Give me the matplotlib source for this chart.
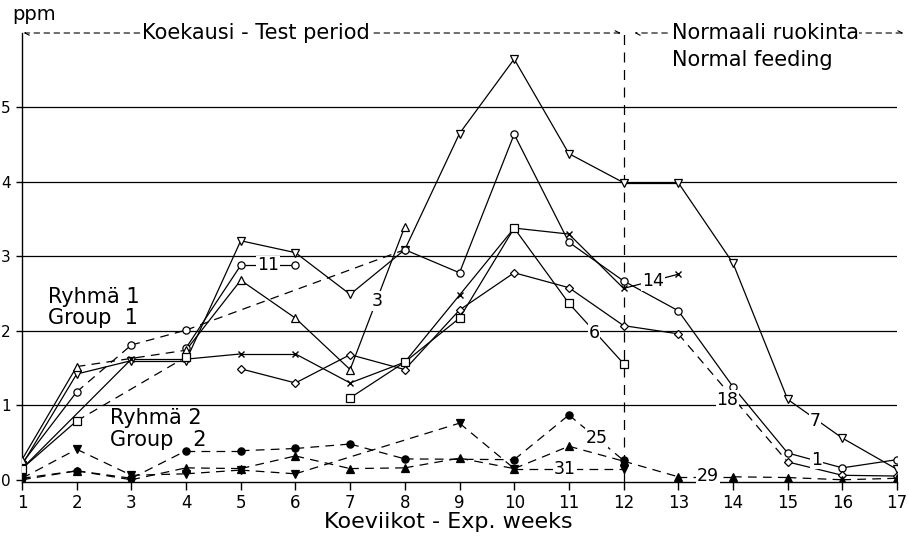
import numpy as np
import matplotlib
matplotlib.use("Agg")
import matplotlib.pyplot as plt

nan = np.nan
weeks = list(range(1, 18))

# ---- Group 1 (Ryhmä 1): open markers ----
s7 = [0.20, 1.42, 1.60, 1.60, 3.21, 3.05, 2.49, 3.09, 4.65, 5.65, 4.38, 3.99, 3.99, 2.91, 1.08, 0.56, 0.14]
s1 = [0.22, 1.18, 1.81, 2.01, nan, nan, nan, 3.09, 2.78, 4.64, 3.19, 2.67, 2.27, 1.25, 0.36, 0.16, 0.27]
s11 = [nan, nan, nan, 1.77, 2.88, 2.88, nan, nan, nan, nan, nan, nan, nan, nan, nan, nan, nan]
s3 = [0.27, 1.52, nan, 1.74, 2.68, 2.17, 1.48, 3.40, nan, nan, nan, nan, nan, nan, nan, nan, nan]
s14 = [0.15, nan, 1.62, 1.62, 1.69, 1.69, 1.30, 1.58, 2.48, 3.38, 3.30, 2.57, 2.76, nan, nan, nan, nan]
s6 = [nan, nan, nan, nan, nan, nan, 1.10, 1.58, 2.17, 3.38, 2.37, 1.56, nan, nan, nan, nan, nan]
s18 = [nan, nan, nan, nan, 1.49, 1.30, 1.68, 1.48, 2.28, 2.78, 2.58, 2.07, 1.96, nan, 0.24, 0.06, 0.05]
s_sq = [0.15, 0.79, nan, 1.65, nan, nan, nan, nan, nan, nan, nan, nan, nan, nan, nan, nan, nan]

# ---- Group 2 (Ryhmä 2): filled markers ----
s25 = [0.02, 0.12, 0.02, 0.39, 0.39, 0.42, 0.48, 0.28, nan, 0.27, 0.87, 0.26, nan, nan, nan, nan, nan]
s31 = [0.02, 0.41, 0.06, 0.08, 0.13, 0.08, nan, nan, 0.76, 0.15, nan, 0.15, nan, nan, nan, nan, nan]
s29 = [0.00, 0.12, 0.00, 0.16, 0.15, 0.32, 0.15, 0.16, 0.29, 0.15, 0.45, 0.25, 0.04, 0.04, 0.03, 0.00, 0.02]

yticks = [0, 1, 2, 3, 4, 5]

# series: values, marker, filled, dashed segment start weeks (None = all dashed)
series = [
    (s7, 'v', False, []),
    (s1, 'o', False, [2, 3, 4]),
    (s11, 'o', False, []),
    (s3, '^', False, [2]),
    (s14, 'x', False, []),
    (s6, 's', False, []),
    (s18, 'D', False, [13]),
    (s_sq, 's', False, [2]),
    (s25, 'o', True, None),
    (s31, 'v', True, None),
    (s29, '^', True, None),
]

labels = [("11", 5.5, 2.88), ("3", 7.5, 2.40), ("6", 11.46, 1.97), ("14", 12.54, 2.67),
          ("18", 13.9, 1.07), ("7", 15.5, 0.79), ("1", 15.53, 0.27), ("25", 11.51, 0.56),
          ("31", 10.93, 0.15), ("29", 13.54, 0.05)]

W, H = 909, 540
fig = plt.figure(figsize=(W / 100, H / 100), dpi=100)
ax = fig.add_axes([22 / W, (540 - 482) / H, 875 / W, (482 - 33) / H])
ax.set_xlim(1, 17)
ax.set_ylim(-0.03, 6.0)
for sp in ['top', 'right']:
    ax.spines[sp].set_visible(False)
ax.spines['left'].set_linewidth(1.0)
ax.spines['bottom'].set_linewidth(1.0)
ax.set_xticks(weeks)
ax.set_yticks(yticks)
ax.tick_params(axis='x', length=6, width=1, direction='out', labelsize=12, pad=3)
ax.tick_params(axis='y', length=4, width=1, direction='out', labelsize=11, pad=4)
for v in yticks[1:]:
    ax.axhline(v, color='black', lw=0.9, zorder=1)

lw = 0.9
for vals, mk, filled, dashed in series:
    pts = [(w, v) for w, v in zip(weeks, vals) if not np.isnan(v)]
    for (w0, v0), (w1, v1) in zip(pts[:-1], pts[1:]):
        is_dash = dashed is None or w0 in dashed
        ax.plot([w0, w1], [v0, v1], color='black', lw=lw,
                linestyle=(0, (7, 5)) if is_dash else '-', zorder=2)
    xs = [p[0] for p in pts]
    ys = [p[1] for p in pts]
    if mk == 'x':
        ax.plot(xs, ys, linestyle='none', marker='x', ms=5, mew=1.0, color='black', zorder=4)
    else:
        ms = 4.5 if mk == 'D' else 5.2
        ax.plot(xs, ys, linestyle='none', marker=mk, ms=ms, mew=0.9,
                mfc='black' if filled else 'white', mec='black', zorder=4)

for t, x, y in labels:
    ax.text(x, y, t, fontsize=12.5, ha='center', va='center', zorder=5,
            bbox=dict(facecolor='white', edgecolor='none', pad=0.5))

# vertical dashed separator at week 12
ax.plot([12, 12], [-0.03, 6.0], color='black', lw=0.9, linestyle=(0, (8, 6)), clip_on=False, zorder=3)

# top period annotations
ytop = 6.0
ax.annotate('', xy=(1.03, ytop), xytext=(11.95, ytop),
            arrowprops=dict(arrowstyle='<->', lw=0.8, linestyle=(0, (5, 4)), color='black',
                            shrinkA=0, shrinkB=0, mutation_scale=8),
            annotation_clip=False)
ax.text(5.28, ytop, 'Koekausi - Test period', fontsize=15, ha='center', va='center',
        bbox=dict(facecolor='white', edgecolor='none', pad=1), clip_on=False, zorder=6)
ax.annotate('', xy=(12.2, ytop), xytext=(12.8, ytop),
            arrowprops=dict(arrowstyle='->', lw=0.8, linestyle=(0, (5, 4)), color='black',
                            shrinkA=0, shrinkB=0, mutation_scale=8),
            annotation_clip=False)
ax.annotate('', xy=(17.12, ytop), xytext=(16.25, ytop),
            arrowprops=dict(arrowstyle='->', lw=0.8, linestyle=(0, (5, 4)), color='black',
                            shrinkA=0, shrinkB=0, mutation_scale=8),
            annotation_clip=False)
ax.text(12.88, ytop, 'Normaali ruokinta', fontsize=15, ha='left', va='center', clip_on=False,
        bbox=dict(facecolor='white', edgecolor='none', pad=0.5), zorder=6)
ax.text(12.88, 5.64, 'Normal feeding', fontsize=15, ha='left', va='center', clip_on=False)

ax.text(1.475, 2.46, 'Ryhmä 1', fontsize=15, ha='left', va='center')
ax.text(1.475, 2.17, 'Group  1', fontsize=15, ha='left', va='center')
ax.text(2.61, 0.83, 'Ryhmä 2', fontsize=15, ha='left', va='center')
ax.text(2.61, 0.54, 'Group   2', fontsize=15, ha='left', va='center')

fig.text(12 / W, 1 - 14 / H, 'ppm', fontsize=14, ha='left', va='center')
fig.text(448 / W, 1 - 522 / H, 'Koeviikot - Exp. weeks', fontsize=16, ha='center', va='center')

fig.savefig('out.png', dpi=100, facecolor='white')
